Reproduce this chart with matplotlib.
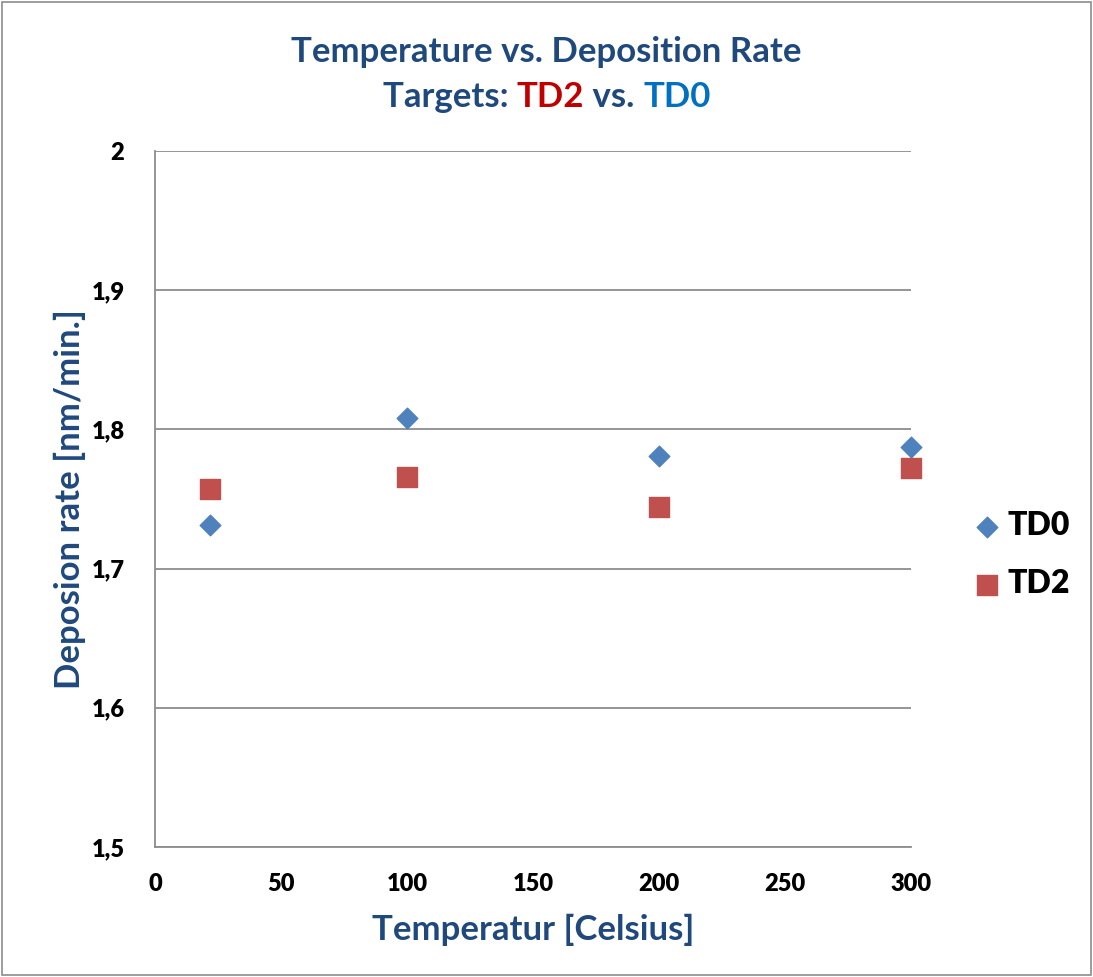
import matplotlib.pyplot as plt
from matplotlib.patches import Rectangle
from matplotlib.ticker import FuncFormatter

plt.rcParams["font.family"] = ["Lato", "DejaVu Sans"]
plt.rcParams["font.weight"] = "bold"

# data
temps = [22, 100, 200, 300]
td0 = [1.731, 1.808, 1.781, 1.787]
td2 = [1.757, 1.766, 1.744, 1.772]

title_col = "#1F497D"
fig = plt.figure(figsize=(10.93, 9.77), dpi=100)
ax = fig.add_axes([155 / 1093, 1 - 847 / 977, 756 / 1093, 696 / 977])

ax.scatter(temps, td0, marker="D", s=110, color="#4F81BD", label="TD0", zorder=3, clip_on=False)
ax.scatter(temps, td2, marker="s", s=210, color="#C0504D", label="TD2", zorder=3, clip_on=False)

ax.set_xlim(0, 300)
ax.set_ylim(1.5, 2.0)
ax.set_xticks(range(0, 301, 50))
ax.set_yticks([1.5, 1.6, 1.7, 1.8, 1.9, 2.0])
ax.yaxis.set_major_formatter(FuncFormatter(lambda v, p: f"{v:g}".replace(".", ",")))
ax.tick_params(length=0, labelsize=17)
ax.tick_params(axis="x", pad=19)
ax.tick_params(axis="y", pad=22)
ax.grid(axis="y", color="#8C8C8C", lw=1.3)
ax.set_axisbelow(True)
for s in ("top", "right"):
    ax.spines[s].set_visible(False)
for s in ("left", "bottom"):
    ax.spines[s].set_color("#8C8C8C")
    ax.spines[s].set_linewidth(1.3)

ax.set_xlabel("Temperatur [Celsius]", fontsize=25, color=title_col, fontweight="bold", labelpad=13)
ax.set_ylabel("Deposion rate [nm/min.]", fontsize=25, color=title_col, fontweight="bold", labelpad=4)

leg = ax.legend(loc="center left", bbox_to_anchor=(1.041, 0.42), frameon=False,
                prop={"size": 23, "weight": "heavy"}, handletextpad=-0.35,
                labelspacing=0.92, scatterpoints=1, borderaxespad=0)

# title, second line in several colours
fig.text(0.5, 1 - 52 / 977, "Temperature vs. Deposition Rate", ha="center", va="center",
         fontsize=25, color=title_col, fontweight="bold")
parts = [("Targets: ", title_col), ("TD2", "#C00000"), (" vs. ", title_col), ("TD0", "#0070C0")]
fig.canvas.draw()
for lbl in ax.get_xticklabels() + ax.get_yticklabels():
    lbl.set_fontweight("heavy")
r = fig.canvas.get_renderer()
texts = []
for s, c in parts:
    t = fig.text(0, 1 - 97 / 977, s, ha="left", va="center", fontsize=25, color=c, fontweight="bold")
    texts.append(t)
widths = [t.get_window_extent(r).width / fig.bbox.width for t in texts]
x = 0.5 - sum(widths) / 2
for t, w in zip(texts, widths):
    t.set_x(x)
    x += w

fig.patches.append(Rectangle((0.002, 0.002), 0.996, 0.996, transform=fig.transFigure,
                             fill=False, ec="#8C8C8C", lw=1.2))

fig.savefig("out.png", dpi=100)
